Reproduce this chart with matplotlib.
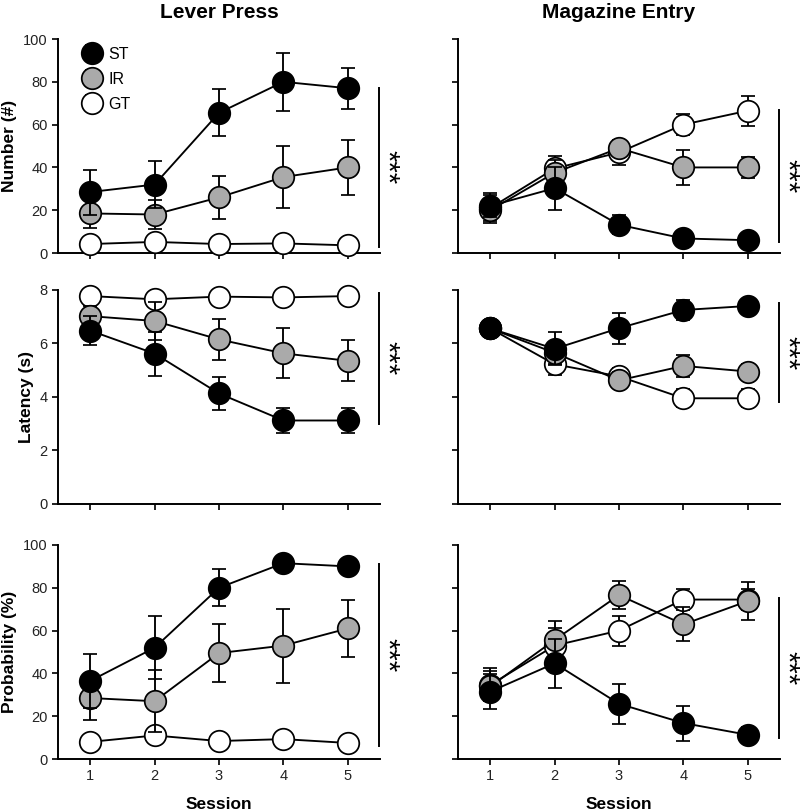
import numpy as np
import matplotlib
matplotlib.use('Agg')
import matplotlib.pyplot as plt

plt.rcParams['font.family'] = ['Liberation Sans', 'DejaVu Sans']

sessions = [1, 2, 3, 4, 5]
groups = ['ST', 'IR', 'GT']
fills = {'ST': 'black', 'IR': '#aaaaaa', 'GT': 'white'}

# Lever press (left column)
lp_number_mean = {'ST': [28.5, 32, 65.5, 80, 77], 'IR': [18.5, 18, 26, 35.5, 40], 'GT': [4.2, 5.2, 4.2, 4.5, 3.6]}
lp_number_sem = {'ST': [10.5, 11, 11, 13.5, 9.5], 'IR': [7, 7, 10, 14.5, 13], 'GT': [1, 1, 0.8, 0.8, 0.7]}
lp_latency_mean = {'ST': [6.48, 5.62, 4.13, 3.12, 3.12], 'IR': [7.02, 6.84, 6.15, 5.63, 5.35], 'GT': [7.77, 7.65, 7.75, 7.72, 7.77]}
lp_latency_sem = {'ST': [0.53, 0.82, 0.63, 0.48, 0.46], 'IR': [0.38, 0.7, 0.78, 0.93, 0.76], 'GT': [0.05, 0.08, 0.05, 0.05, 0.05]}
lp_prob_mean = {'ST': [36.5, 52, 80, 91.5, 90], 'IR': [28.5, 27, 49.5, 53, 61], 'GT': [8, 11, 8.4, 9.3, 7.5]}
lp_prob_sem = {'ST': [12.5, 14.8, 8.6, 1.5, 1.5], 'IR': [10.4, 14.6, 13.7, 17.3, 13.4], 'GT': [1.5, 3, 1.5, 1.5, 1.2]}

# Magazine entry (right column)
me_number_mean = {'ST': [22, 30.3, 13.2, 6.8, 6.0], 'IR': [20, 37.5, 49, 40, 40], 'GT': [21, 39.5, 47, 60, 66.5]}
me_number_sem = {'ST': [5, 10, 4.5, 2.5, 2], 'IR': [5, 6, 3.5, 8, 5], 'GT': [7, 6, 6, 5, 7]}
me_latency_mean = {'ST': [6.56, 5.8, 6.57, 7.25, 7.4], 'IR': [6.56, 5.65, 4.62, 5.16, 4.95], 'GT': [6.56, 5.22, 4.77, 3.95, 3.95]}
me_latency_sem = {'ST': [0.2, 0.62, 0.58, 0.36, 0.2], 'IR': [0.2, 0.4, 0.3, 0.4, 0.3], 'GT': [0.2, 0.4, 0.3, 0.33, 0.33]}
me_prob_mean = {'ST': [31.5, 44.7, 25.8, 16.8, 11.3], 'IR': [33.9, 55.6, 76.6, 62.9, 73.8], 'GT': [34.6, 53, 60, 74.5, 74.5]}
me_prob_sem = {'ST': [8, 11.5, 9.3, 8.2, 3.5], 'IR': [7, 9, 6.5, 7.9, 8.8], 'GT': [7.7, 8, 7, 4.8, 5]}

panels = [
    [(lp_number_mean, lp_number_sem), (me_number_mean, me_number_sem)],
    [(lp_latency_mean, lp_latency_sem), (me_latency_mean, me_latency_sem)],
    [(lp_prob_mean, lp_prob_sem), (me_prob_mean, me_prob_sem)],
]
row_labels = ['Number (#)', 'Latency (s)', 'Probability (%)']
row_ylims = [(0, 100), (0, 8), (0, 100)]
row_yticks = [[0, 20, 40, 60, 80, 100], [0, 2, 4, 6, 8], [0, 20, 40, 60, 80, 100]]
col_titles = ['Lever Press', 'Magazine Entry']
# significance bar extents (y from, y to) for each panel
sig_ranges = [[(3, 77), (5, 67)], [(3.0, 7.9), (3.8, 7.5)], [(6, 91), (10, 75)]]

fig = plt.figure(figsize=(8, 8.11), dpi=100)
lefts = [0.0725, 0.5725]
bottoms = [0.688, 0.3786, 0.0641]
w, h = 0.4025, 0.2639

for r in range(3):
    for c in range(2):
        ax = fig.add_axes([lefts[c], bottoms[r], w, h])
        means, sems = panels[r][c]
        z = 3
        for g in ['GT', 'IR', 'ST']:
            eb = ax.errorbar(sessions, means[g], yerr=sems[g], fmt='-o', color='black',
                             mfc=fills[g], mec='black', ms=15.5, mew=1.25, lw=1.35,
                             elinewidth=1.35, capsize=5, capthick=1.35, zorder=z, label=g)
            for art in eb.get_children():
                art.set_clip_on(False)
            z += 1
        ax.set_xlim(0.5, 5.5)
        ax.set_ylim(*row_ylims[r])
        ax.set_yticks(row_yticks[r])
        ax.set_xticks(sessions)
        for s in ['top', 'right']:
            ax.spines[s].set_visible(False)
        for s in ['left', 'bottom']:
            ax.spines[s].set_linewidth(1.4)
        ax.tick_params(direction='out', length=4, width=1.4, labelsize=10.5, colors='#222222')
        if c == 1:
            ax.set_yticklabels([])
        else:
            ax.set_ylabel(row_labels[r], fontsize=12.5, fontweight='bold', labelpad=4)
        if r < 2:
            ax.set_xticklabels([])
        else:
            ax.set_xlabel('Session', fontsize=12.5, fontweight='bold', labelpad=10)
        if r == 0:
            ax.set_title(col_titles[c], fontsize=15, fontweight='bold', pad=15)
        y0, y1 = sig_ranges[r][c]
        ax.plot([5.48, 5.48], [y0, y1], color='black', lw=1.4, clip_on=False)
        ax.text(5.6, (y0 + y1) / 2, '***', rotation=270, ha='center', va='center',
                fontsize=21)
        if r == 0 and c == 0:
            handles, labels = ax.get_legend_handles_labels()
            ax.legend(handles[::-1], labels[::-1], loc='upper left', frameon=False,
                      fontsize=11.5, handletextpad=0.45, labelspacing=0.62,
                      borderaxespad=0.1, bbox_to_anchor=(0.05, 1.0),
                      handlelength=1.2)

fig.savefig('out.png', dpi=100)
